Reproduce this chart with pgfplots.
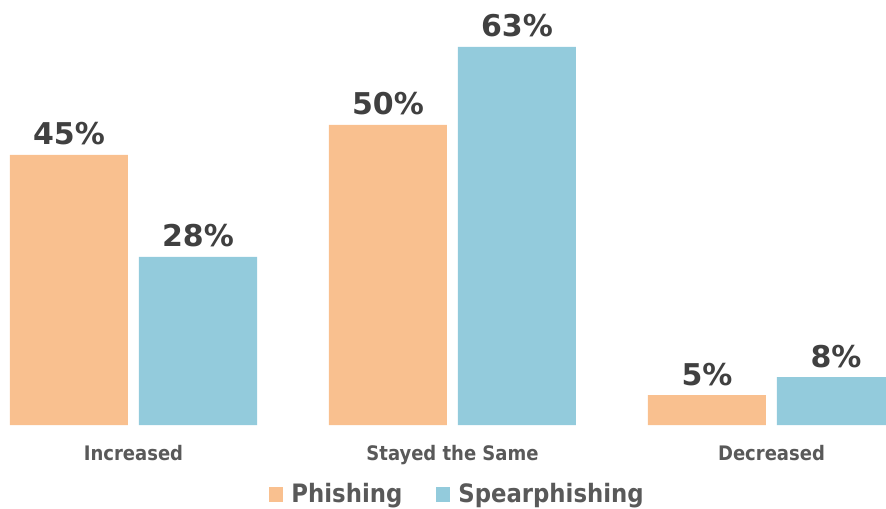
\documentclass[border=0pt]{standalone}
\usepackage{pgfplots}
\pgfplotsset{compat=1.18}
\usepackage{fontspec}
\setmainfont{DejaVu Sans}
\newfontfamily\condfont{DejaVu Sans Condensed}
\definecolor{phish}{HTML}{F9C08F}
\definecolor{spear}{HTML}{93CBDC}
\definecolor{valtxt}{HTML}{404040}
\definecolor{cattxt}{HTML}{595959}
\begin{document}
\begin{tikzpicture}
\begin{axis}[
  scale only axis,
  width=664.5pt, height=318.75pt,
  xmin=-0.4185, xmax=2.359,
  ymin=0, ymax=70.83,
  axis line style={draw=none},
  tick style={draw=none},
  /pgf/number format/assume math mode=true,
  ybar=8.25pt,
  bar width=88.5pt,
  xtick={0,1,2},
  xticklabels={Increased,Stayed the Same,Decreased},
  ytick=\empty,
  major tick length=0pt,
  xticklabel style={font=\condfont\bfseries\fontsize{15pt}{18pt}\selectfont, text=cattxt, anchor=base, yshift=-26.25pt, inner sep=0pt},
  nodes near coords={\pgfmathprintnumber{\pgfplotspointmeta}\%},
  every node near coord/.append style={font=\bfseries\fontsize{22.5pt}{27pt}\selectfont, text=valtxt, anchor=base, yshift=7.5pt, inner sep=0pt},
  legend columns=2,
  legend style={at={(axis description cs:0.5153,-0.163)}, anchor=center, draw=none, fill=none, inner sep=0pt,
    font=\condfont\bfseries\fontsize{19pt}{23pt}\selectfont, text=cattxt,
    nodes={inner sep=0pt},
    /tikz/every odd column/.append style={column sep=6pt},
    /tikz/every even column/.append style={column sep=25.5pt}},
  legend image code/.code={\fill[#1] (0pt,-5.6pt) rectangle (10.5pt,5.6pt);},
]
\addplot[draw=none, fill=phish] coordinates {(0,45) (1,50) (2,5)};
\addplot[draw=none, fill=spear] coordinates {(0,28) (1,63) (2,8)};
\legend{Phishing,Spearphishing}
\end{axis}
\pgfresetboundingbox
\path (0,-62.25pt) rectangle (664.5pt,318.75pt);
\end{tikzpicture}
\end{document}
